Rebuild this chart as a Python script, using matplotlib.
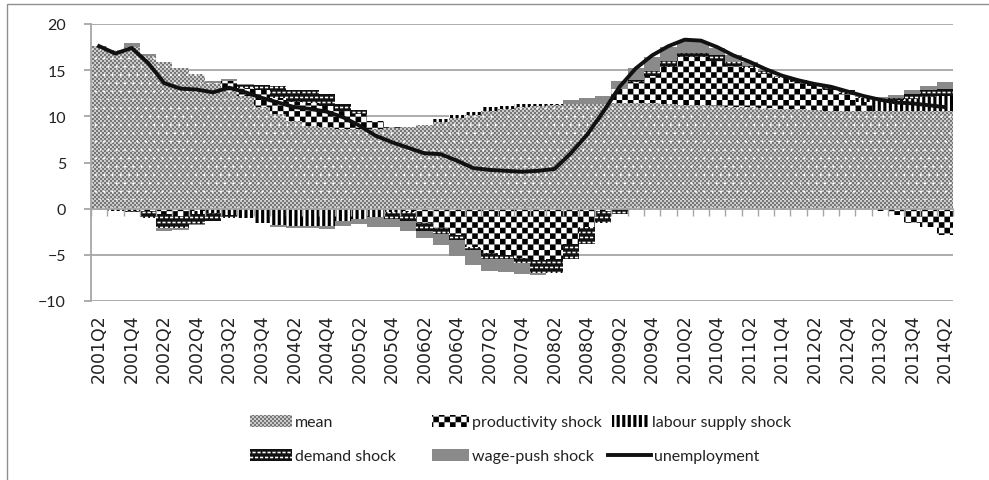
import warnings
warnings.filterwarnings("ignore")
import numpy as np
import matplotlib
matplotlib.use("Agg")
import matplotlib.pyplot as plt
import matplotlib.hatch as mhatch
from matplotlib.path import Path
from matplotlib.patches import Rectangle

# ---------------- data ----------------
quarters = ["2001Q2","2001Q3","2001Q4","2002Q1","2002Q2","2002Q3","2002Q4","2003Q1","2003Q2","2003Q3",
            "2003Q4","2004Q1","2004Q2","2004Q3","2004Q4","2005Q1","2005Q2","2005Q3","2005Q4","2006Q1",
            "2006Q2","2006Q3","2006Q4","2007Q1","2007Q2","2007Q3","2007Q4","2008Q1","2008Q2","2008Q3",
            "2008Q4","2009Q1","2009Q2","2009Q3","2009Q4","2010Q1","2010Q2","2010Q3","2010Q4","2011Q1",
            "2011Q2","2011Q3","2011Q4","2012Q1","2012Q2","2012Q3","2012Q4","2013Q1","2013Q2","2013Q3",
            "2013Q4","2014Q1","2014Q2"]

mean = [17.6, 17.2, 17.5, 16.5, 15.9, 15.2, 14.6, 13.6, 12.8, 12.2,
        11.0, 10.2, 9.5, 9.0, 8.8, 8.6, 8.6, 8.6, 8.7, 8.8,
        9.1, 9.4, 9.8, 10.1, 10.6, 10.8, 11.0, 11.1, 11.2, 11.3,
        11.3, 11.3, 11.4, 11.4, 11.4, 11.3, 11.2, 11.2, 11.1, 11.0,
        11.0, 10.9, 10.8, 10.8, 10.7, 10.6, 10.6, 10.6, 10.6, 10.6,
        10.6, 10.6, 10.6]
productivity = [0, 0, 0, -0.3, -0.6, -0.8, -0.3, 0, 1.0, 0.9,
                1.8, 1.8, 2.0, 2.4, 2.3, 2.0, 1.6, 0.9, 0.1, -0.2,
                -1.5, -2.1, -2.9, -4.1, -4.8, -5.0, -5.3, -5.6, -5.5, -3.8,
                -2.0, -0.2, 1.6, 2.3, 3.0, 4.0, 5.2, 5.2, 4.9, 4.5,
                4.2, 3.7, 3.3, 2.9, 2.6, 2.3, 1.8, 0.9, -0.3, -0.7,
                -1.5, -2.0, -2.8]
labour_supply = [0, -0.3, -0.2, 0, 0, 0, -0.3, -0.5, -0.7, -1.0,
                 -1.5, -1.8, -1.9, -1.9, -1.9, -1.3, -1.1, -0.9, -0.4, -0.2,
                 -0.1, 0.3, 0.3, 0.4, 0.4, 0.3, 0.3, 0.2, 0.1, 0,
                 0, 0, 0, -0.1, 0, 0, 0, 0, 0, 0,
                 0, 0, 0, 0, 0, 0, 0.1, 0.5, 1.2, 1.2,
                 1.3, 1.5, 1.6]
demand = [0, 0, -0.2, -0.7, -1.5, -1.3, -1.1, -0.8, -0.3, 0.3,
          0.6, 1.3, 1.3, 1.4, 1.3, 0.7, 0.5, 0, -0.7, -0.9,
          -0.8, -0.6, -0.5, -0.4, -0.6, -0.5, -0.6, -1.4, -1.5, -1.6,
          -1.8, -1.3, -0.6, 0.2, 0.5, 0.7, 0.5, 0.5, 0.6, 0.4,
          0.3, 0.3, 0.2, 0.2, 0.2, 0.3, 0.3, 0.1, 0.1, 0.2,
          0.5, 0.7, 0.8]
wage_push = [-0.1, 0, 0.4, 0.2, -0.3, -0.2, -0.1, 0.2, 0.2, 0.1,
             0, -0.2, -0.2, -0.2, -0.3, -0.6, -0.6, -1.1, -0.9, -1.1,
             -0.8, -1.2, -1.7, -1.6, -1.3, -1.4, -1.2, -0.2, 0, 0.5,
             0.7, 0.9, 0.8, 1.3, 1.5, 1.5, 1.3, 1.2, 0.8, 0.7,
             0.4, 0.2, 0.1, 0, 0, 0, 0, 0.1, 0.2, 0.3,
             0.5, 0.5, 0.7]
unemployment = [17.6, 16.8, 17.4, 15.8, 13.6, 13.0, 12.9, 12.6, 13.1, 12.6,
                12.0, 11.5, 11.0, 10.8, 10.5, 9.9, 9.0, 7.9, 7.2, 6.6,
                6.0, 5.9, 5.2, 4.4, 4.2, 4.1, 4.0, 4.1, 4.3, 6.0,
                8.0, 10.5, 13.2, 15.2, 16.6, 17.6, 18.3, 18.2, 17.5, 16.6,
                15.9, 15.1, 14.4, 13.9, 13.5, 13.2, 12.7, 12.2, 11.8, 11.5,
                11.4, 11.2, 11.0]

series_names = ["mean", "productivity shock", "labour supply shock", "demand shock", "wage-push shock"]
y_ticks = [-10, -5, 0, 5, 10, 15, 20]

# ---------------- custom hatch patterns ----------------
class _GridHatch(mhatch.HatchPatternBase):
    char = None
    def __init__(self, hatch, density):
        self.on = self.char is not None and hatch.count(self.char) > 0
        self.rects = self.make_rects() if self.on else []
        self.num_vertices = 5 * len(self.rects)
    def make_rects(self):
        return []
    def set_vertices_and_codes(self, vertices, codes):
        v = []
        c = []
        for (x0, y0, w, h) in self.rects:
            v += [(x0, y0), (x0 + w, y0), (x0 + w, y0 + h), (x0, y0 + h), (x0, y0)]
            c += [Path.MOVETO, Path.LINETO, Path.LINETO, Path.LINETO, Path.CLOSEPOLY]
        vertices[:] = v
        codes[:] = c

class CheckerBig(_GridHatch):          # productivity: large checkerboard
    char = 'c'
    def make_rects(self):
        n = 18
        s = 1.0 / n
        return [(i * s, j * s, s, s) for i in range(n) for j in range(n) if (i + j) % 2 == 0]

class CheckerFine(_GridHatch):         # mean: fine dither
    char = 'm'
    def make_rects(self):
        n = 50
        s = 1.0 / n
        return [(i * s, j * s, s, s) for i in range(n) for j in range(n) if (i + j) % 2 == 0]

class VStripes(_GridHatch):            # labour supply: vertical bars
    char = 'v'
    def make_rects(self):
        n = 18
        s = 1.0 / n
        return [(i * s, 0, s * 0.55, 1.0) for i in range(n)]

class Bricks(_GridHatch):              # demand: white dashes on black
    char = 'b'
    def make_rects(self):
        n = 20
        s = 1.0 / n
        out = []
        for r in range(n):
            off = (s / 2) if r % 2 else 0
            for k in range(n):
                out.append(((k * s + off) % 1.0, r * s + s * 0.35, s * 0.62, s * 0.3))
        return out

class WhitePlus(_GridHatch):           # mean: white plus marks overlay
    char = 'p'
    def make_rects(self):
        n = 12
        s = 1.0 / n
        out = []
        for r in range(n):
            off = (s / 2) if r % 2 else 0
            for k in range(n):
                cx = (k * s + off) % 1.0
                cy = r * s
                out.append((cx - 0.012, cy - 0.004, 0.024, 0.008))
                out.append((cx - 0.004, cy - 0.012, 0.008, 0.024))
        return out

for cls in (CheckerBig, CheckerFine, VStripes, Bricks, WhitePlus):
    mhatch._hatch_types.append(cls)

plt.rcParams['hatch.linewidth'] = 0.05

# ---------------- figure ----------------
W, H = 989, 481
fig = plt.figure(figsize=(W / 100, H / 100), dpi=100)
ax = fig.add_axes([91 / W, 1 - 302 / H, (953 - 91) / W, (302 - 25) / H])

x = np.arange(len(quarters))
comps = [np.array(mean, float), np.array(productivity, float), np.array(labour_supply, float),
         np.array(demand, float), np.array(wage_push, float)]
styles = [dict(color='#d2d2d2', edgecolor='#777777', hatch='m'),
          dict(color='white', edgecolor='black', hatch='c'),
          dict(color='white', edgecolor='black', hatch='v'),
          dict(color='#111111', edgecolor='white', hatch='b'),
          dict(color='#8a8a8a', edgecolor='#8a8a8a', hatch=None)]

pos_bottom = np.zeros(len(x))
neg_bottom = np.zeros(len(x))
handles = []
for vals, name, st in zip(comps, series_names, styles):
    pos = np.where(vals > 0, vals, 0)
    neg = np.where(vals < 0, vals, 0)
    b1 = ax.bar(x, pos, width=1.0, bottom=pos_bottom, linewidth=0, zorder=2, label=name, **st)
    ax.bar(x, neg, width=1.0, bottom=neg_bottom, linewidth=0, zorder=2, **st)
    if name == "mean":
        ax.bar(x, pos, width=1.0, bottom=pos_bottom, color='none', edgecolor='white',
               hatch='p', linewidth=0, zorder=2.1)
    pos_bottom += pos
    neg_bottom += neg
    handles.append(b1)

line, = ax.plot(x, unemployment, color='#111111', lw=2.8, zorder=4,
                solid_joinstyle='round', label='unemployment')

ax.set_xlim(-0.5, len(x) - 0.5)
ax.set_ylim(-10, 20)
ax.set_yticks(y_ticks)
ax.yaxis.grid(True, color='#a6a6a6', lw=1.3, zorder=0)
ax.set_axisbelow(True)
for s in ['top', 'right', 'bottom']:
    ax.spines[s].set_visible(False)
ax.spines['left'].set_color('#a6a6a6')
ax.spines['left'].set_linewidth(1.3)
ax.tick_params(axis='y', length=5, color='#a6a6a6', width=1.3, pad=13,
               labelsize=11.5, labelcolor='#222222')
for lab in ax.get_yticklabels():
    lab.set_fontfamily('Lato')

ax.set_xticks(x[::2])
ax.set_xticklabels(quarters[::2], rotation=90, fontsize=12.5, color='#222222',
                   fontfamily='DejaVu Sans')
ax.tick_params(axis='x', length=0, pad=9)

# zero axis with category boundary tick marks
zero_frac = (0 - (-10)) / (20 - (-10))
sec = ax.secondary_xaxis(zero_frac)
sec.set_xticks(np.arange(-0.5, len(x), 1.0))
sec.tick_params(axis='x', direction='out', length=5, color='#a6a6a6', width=1.0, labelbottom=False)
sec.spines['bottom'].set_color('#a6a6a6')
sec.spines['bottom'].set_linewidth(1.3)
sec.set_zorder(3)

# chart border
fig.add_artist(Rectangle((7 / W, -0.1), 1.2, 1 - 5 / H + 0.1, transform=fig.transFigure,
                         fill=False, edgecolor='#8f8f8f', lw=1.0))

# legend: Excel-like grid of entries
row1, row2 = 423, 457
entries = [(handles[0], series_names[0], 250, row1, 2.6),
           (handles[1], series_names[1], 432, row1, 2.3),
           (handles[2], series_names[2], 612, row1, 2.3),
           (handles[3], series_names[3], 250, row2, 2.6),
           (handles[4], series_names[4], 432, row2, 2.3),
           (line, 'unemployment', 608, row2, 2.7)]
for h, lab, px, py, hl in entries:
    leg = fig.legend([h], [lab], loc='center left', bbox_to_anchor=(px / W, 1 - py / H),
                     frameon=False, borderpad=0, borderaxespad=0, handletextpad=0.2,
                     handlelength=hl, handleheight=0.8,
                     prop=dict(family='Lato', size=11.5))
    for t in leg.get_texts():
        t.set_color('#222222')

fig.savefig('out.png', dpi=100)
